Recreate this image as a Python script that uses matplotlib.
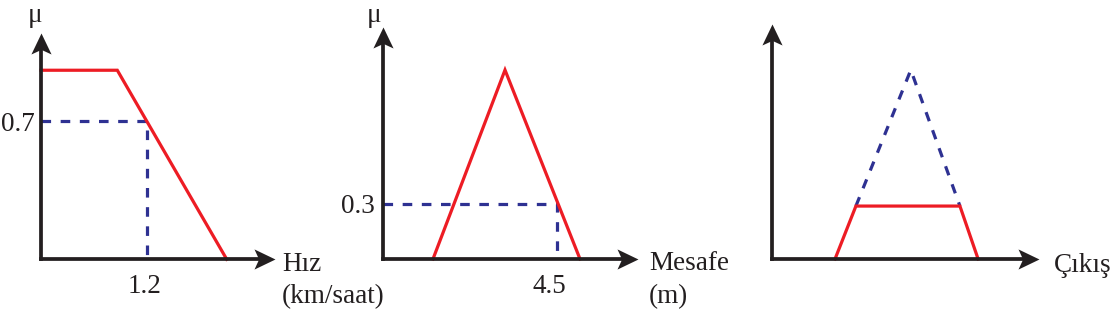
import matplotlib
matplotlib.use("Agg")
import matplotlib.pyplot as plt
from matplotlib.path import Path

# membership functions (mu scale: peak = 1)
hiz_x = [0.0, 0.866, 2.108]
hiz_mu = [1.0, 1.0, 0.0]
hiz_cut_x = 1.2
hiz_cut_mu = 0.73

mesafe_x = [1.293, 3.155, 5.094]
mesafe_mu = [0.0, 1.0, 0.0]
mesafe_cut_x = 4.5
mesafe_cut_mu = 0.29

cikis_tri_x = [2.17, 3.59, 4.86]
cikis_tri_mu = [0.28, 1.0, 0.28]
cikis_trap_x = [1.63, 2.17, 4.86, 5.33]
cikis_trap_mu = [0.0, 0.28, 0.28, 0.0]

tick_hiz_x = "1.2"
tick_hiz_y = "0.7"
tick_mesafe_x = "4.5"
tick_mesafe_y = "0.3"

RED = "#ED1C24"
BLUE = "#2E3192"
BLACK = "#231F20"
FONT = "Liberation Serif"
FS = 19.5

W, H = 1116, 313
fig = plt.figure(figsize=(W / 100, H / 100), dpi=100)

# stealth-like arrow heads, tip at the origin of the marker
HEAD = [(0, 0), (-1, 0.48), (-0.78, 0), (-1, -0.48), (0, 0)]
CODES = [Path.MOVETO] + [Path.LINETO] * 3 + [Path.CLOSEPOLY]
head_right = Path(HEAD, CODES)
head_up = Path([(-y, x) for x, y in HEAD], CODES)
HEAD_PX = 21  # head length in pixels
MS = HEAD_PX * 0.72 * 2


def px(x, y):
    return x / W, 1 - y / H


def panel(x0, y0, x1, y1, xmax, ymax):
    w, h = x1 - x0, y0 - y1
    ax = fig.add_axes([x0 / W, 1 - y0 / H, w / W, h / H])
    ax.set_xlim(0, xmax)
    ax.set_ylim(0, ymax)
    ax.set_axis_off()
    t = ax.transAxes
    notch = 0.75 * HEAD_PX
    ax.plot([0, 1 - notch / w], [0, 0], transform=t, color=BLACK, lw=2.7,
            solid_capstyle="projecting", clip_on=False, zorder=5)
    ax.plot([0, 0], [0, 1 - notch / h], transform=t, color=BLACK, lw=2.7,
            solid_capstyle="projecting", clip_on=False, zorder=5)
    ax.plot([1], [0], transform=t, marker=head_right, ms=MS, color=BLACK, mew=0,
            clip_on=False, zorder=5)
    ax.plot([0], [1], transform=t, marker=head_up, ms=MS, color=BLACK, mew=0,
            clip_on=False, zorder=5)
    return ax


dash = dict(color=BLUE, lw=2.3, dashes=(3.0, 3.0), clip_on=False)
solid = dict(color=RED, lw=2.3, clip_on=False, solid_joinstyle="miter")
txt = dict(fontfamily=FONT, fontsize=FS, color=BLACK)

# Hız
ax1 = panel(41, 259.3, 275, 33, 2.656, 1.197)
ax1.plot([0, hiz_cut_x, hiz_cut_x], [hiz_cut_mu, hiz_cut_mu, 0], **dash)
ax1.plot(hiz_x, hiz_mu, **solid)
ax1.annotate(tick_hiz_x, xy=(hiz_cut_x, 0), xytext=(-2, -34), textcoords="offset pixels",
             ha="center", va="baseline", **txt)
ax1.annotate(tick_hiz_y, xy=(0, hiz_cut_mu), xytext=(-6, -9.7), textcoords="offset pixels",
             ha="right", va="baseline", **txt)

# Mesafe
ax2 = panel(383, 259, 638, 27, 6.594, 1.2275)
ax2.plot([0, mesafe_cut_x, mesafe_cut_x], [mesafe_cut_mu, mesafe_cut_mu, 0], **dash)
ax2.plot(mesafe_x, mesafe_mu, **solid)
ax2.annotate(tick_mesafe_x, xy=(mesafe_cut_x, 0), xytext=(-7.5, -34), textcoords="offset pixels",
             ha="center", va="baseline", **txt)
ax2.annotate(tick_mesafe_y, xy=(0, mesafe_cut_mu), xytext=(-8, -8.8), textcoords="offset pixels",
             ha="right", va="baseline", **txt)

# Çıkış
ax3 = panel(772, 259, 1039, 24, 6.905, 1.243)
ax3.plot(cikis_tri_x, cikis_tri_mu, **dash)
ax3.plot(cikis_trap_x, cikis_trap_mu, **solid)

# labels
fig.text(*px(35, 21.5), "μ", ha="center", va="baseline", **txt)
fig.text(*px(374, 21.5), "μ", ha="center", va="baseline", **txt)
fig.text(*px(282, 271), "Hız", ha="left", va="baseline", **txt)
fig.text(*px(282, 303), "(km/saat)", ha="left", va="baseline", **txt)
fig.text(*px(649, 270), "Mesafe", ha="left", va="baseline", **txt)
fig.text(*px(649, 303), "(m)", ha="left", va="baseline", **txt)
fig.text(*px(1054, 272), "Çıkış", ha="left", va="baseline", **txt)

fig.savefig("out.png", dpi=100, facecolor="white")
